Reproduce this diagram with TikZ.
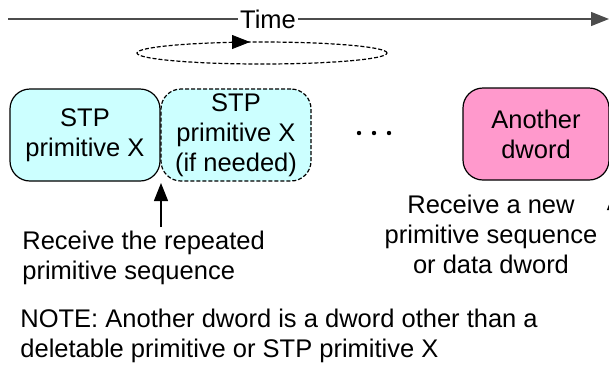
\documentclass[tikz,border=0pt]{standalone}
\usepackage{fontspec}
\setmainfont{Liberation Sans}
\usepackage{tikz}
\usetikzlibrary{positioning,arrows.meta}

\begin{document}
\begin{tikzpicture}[x=0.5pt, y=-0.5pt,
        every node/.style={font=\fontsize{12.75}{15}\selectfont, align=center, inner sep=0pt},
        box/.style={draw, line width=0.6pt, rounded corners=10pt, minimum width=75pt, minimum height=46pt},
        dashline/.style={dash pattern=on 2pt off 1pt},
        tip/.style={-{Triangle[length=9pt, width=7pt]}}]
            % colours of the boxes
            \definecolor{stpcol}{HTML}{CCFFFF}
            \definecolor{dwcol}{HTML}{FF99CC}
            \useasboundingbox (0,0) rectangle (609,366);
            \clip (0,0) rectangle (609,366);
            % time axis
            \node[fill=white, inner xsep=1pt] (t) at (268,19) {Time};
            \coordinate (t0) at (8,19);
            \coordinate (t1) at (609,19);
            \draw[gray!60!black, line width=0.6pt] (t0) -- (t);
            \draw[gray!60!black, line width=0.6pt, tip] (t) -- (t1);
            % repeat loop
            \draw[line width=0.6pt, dashline] (262,53) ellipse [x radius=62.5pt, y radius=5.5pt];
            \coordinate (l0) at (230,42);
            \coordinate (l1) at (250,42);
            \draw[tip] (l0) -- (l1);
            % dwords
            \node[box, fill=stpcol] (a) at (85,135) {STP\\primitive X};
            \node[box, fill=stpcol, dashline] (b) at (236,135) {STP\\primitive X\\(if needed)};
            \foreach \x in {359,374,389} \fill (\x,133) circle (1.1pt);
            \node[box, fill=dwcol, minimum width=73pt] (c) at (536,134) {Another\\dword};
            % labels
            \node[anchor=north west, align=left] (r1) at (22,231) {Receive the repeated\\primitive sequence};
            \node[anchor=north] (r2) at (491,195) {Receive a new\\primitive sequence\\or data dword};
            \node[anchor=north west, align=left] (n) at (20,309) {NOTE: Another dword is a dword other than a\\deletable primitive or STP primitive X};
            \coordinate (p0) at (161,227);
            \coordinate (p1) at (161,183);
            \draw[line width=0.6pt, tip] (p0) -- (p1);
            \coordinate (q0) at (614,240);
            \coordinate (q1) at (614,192);
            \draw[line width=0.6pt, tip] (q0) -- (q1);
        \end{tikzpicture}
\end{document}
